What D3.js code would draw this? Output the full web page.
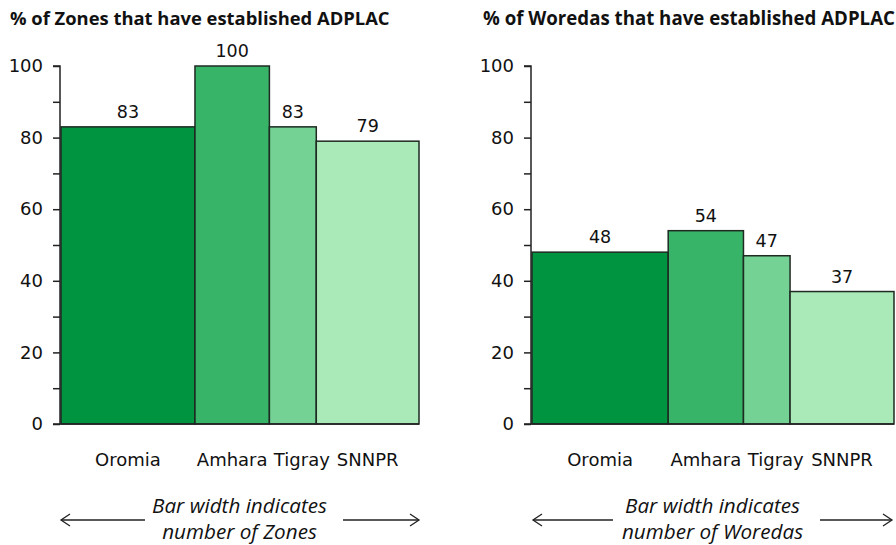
<!DOCTYPE html>
<html><head><meta charset="utf-8">
<script src="https://cdn.jsdelivr.net/npm/d3@7"></script>
<style>
html,body{margin:0;padding:0;background:#fff;}
svg{display:block;}
</style></head>
<body>
<svg id="chart" width="896" height="545"></svg>
<script>
// ---- data ----
const regions = ["Oromia", "Amhara", "Tigray", "SNNPR"];
const colors = ["#009440", "#38b468", "#74d294", "#aaeab8"];
const zonePct = [83, 100, 83, 79];
const zoneCount = [18, 10, 6.3, 13.8];          // bar widths (number of Zones)
const woredaPct = [48, 54, 47, 37];
const woredaCount = [38, 21, 13, 29];           // bar widths (number of Woredas, estimated)
const yTicks = [0, 20, 40, 60, 80, 100];
const titles = ["% of Zones that have established ADPLAC", "% of Woredas that have established ADPLAC"];
const captions = [["Bar width indicates", "number of Zones"], ["Bar width indicates", "number of Woredas"]];

const svg = d3.select("#chart");
const numFont = "'DejaVu Sans', Verdana, sans-serif";

const panels = [
  {title: titles[0], titleX: 10, titleW: 380, axisX: 60, right: 419, pct: zonePct, cnt: zoneCount, cap: captions[0],
   arrows: [[145, 61], [343, 419]]},
  {title: titles[1], titleX: 483, titleW: 412, axisX: 531, right: 894, pct: woredaPct, cnt: woredaCount, cap: captions[1],
   arrows: [[613, 533], [820, 892]]}
];

const y = d3.scaleLinear().domain([0, 100]).range([424, 66]);

function fit(sel, base, target) {
  const w = sel.node().getComputedTextLength();
  sel.attr("font-size", base * target / w);
}

panels.forEach(p => {
  const g = svg.append("g");
  // title
  const t = g.append("text").attr("x", p.titleX).attr("y", 25)
    .attr("font-family", "'Open Sans', sans-serif").attr("font-weight", "bold")
    .attr("font-size", 17).attr("fill", "#111").text(p.title);
  fit(t, 17, p.titleW);

  // x scale from cumulative widths
  const total = d3.sum(p.cnt);
  const x = d3.scaleLinear().domain([0, total]).range([p.axisX + 1, p.right]);
  let cum = 0;
  const bars = regions.map((r, i) => {
    const b = {name: r, v: p.pct[i], x0: cum, x1: cum + p.cnt[i], c: colors[i]};
    cum += p.cnt[i];
    return b;
  });

  // bars
  g.selectAll("rect.bar").data(bars).join("rect")
    .attr("x", d => x(d.x0)).attr("y", d => y(d.v))
    .attr("width", d => x(d.x1) - x(d.x0)).attr("height", d => y(0) - y(d.v))
    .attr("fill", d => d.c).attr("stroke", "#1e2a22").attr("stroke-width", 1.5);

  // value labels
  g.selectAll("text.val").data(bars).join("text")
    .attr("x", d => (x(d.x0) + x(d.x1)) / 2).attr("y", d => y(d.v) - 9)
    .attr("text-anchor", "middle").attr("font-family", numFont).attr("font-size", 17.5)
    .attr("fill", "#111").text(d => d.v);

  // category labels
  g.selectAll("text.cat").data(bars).join("text")
    .attr("x", d => (x(d.x0) + x(d.x1)) / 2 + (d.name === "Tigray" ? 9 : 0))
    .attr("y", 466)
    .attr("text-anchor", "middle").attr("font-family", numFont).attr("font-size", 18)
    .attr("fill", "#111").text(d => d.name);

  // y axis
  const axis = d3.axisLeft(y).tickValues(d3.range(0, 101, 10)).tickSize(7).tickPadding(10)
    .tickFormat(d => yTicks.includes(d) ? d : "");
  const ag = g.append("g").attr("transform", `translate(${p.axisX},0)`).call(axis);
  ag.select(".domain").attr("d", `M-7,${y(100)}H0V${y(0)}`).attr("stroke", "#222").attr("stroke-width", 1.5);
  ag.selectAll(".tick line").attr("stroke", "#222").attr("stroke-width", 1.5);
  ag.selectAll(".tick text").attr("font-family", numFont).attr("font-size", 18).attr("fill", "#111");

  // baseline
  g.append("line").attr("x1", p.axisX - 7).attr("x2", p.right).attr("y1", y(0)).attr("y2", y(0))
    .attr("stroke", "#222").attr("stroke-width", 1.5);

  // caption
  const cx = (p.axisX + p.right) / 2;
  const capW = [175, null];
  let capSize = 17;
  p.cap.forEach((line, i) => {
    const ct = g.append("text").attr("x", cx).attr("y", 513 + i * 26).attr("text-anchor", "middle")
      .attr("font-family", "'Open Sans', sans-serif").attr("font-style", "italic").attr("font-size", 17)
      .attr("fill", "#111").text(line);
    if (i === 0) { fit(ct, 17, 175); capSize = +ct.attr("font-size"); }
    else ct.attr("font-size", capSize);
  });

  // arrows
  p.arrows.forEach(([a, b]) => {
    const dir = b > a ? 1 : -1;
    g.append("line").attr("x1", a).attr("x2", b).attr("y1", 520).attr("y2", 520)
      .attr("stroke", "#222").attr("stroke-width", 1.3);
    g.append("path").attr("d", `M${b - dir * 9},${514}L${b},520L${b - dir * 9},${526}`)
      .attr("fill", "none").attr("stroke", "#222").attr("stroke-width", 1.3);
  });
});
</script>
</body></html>
